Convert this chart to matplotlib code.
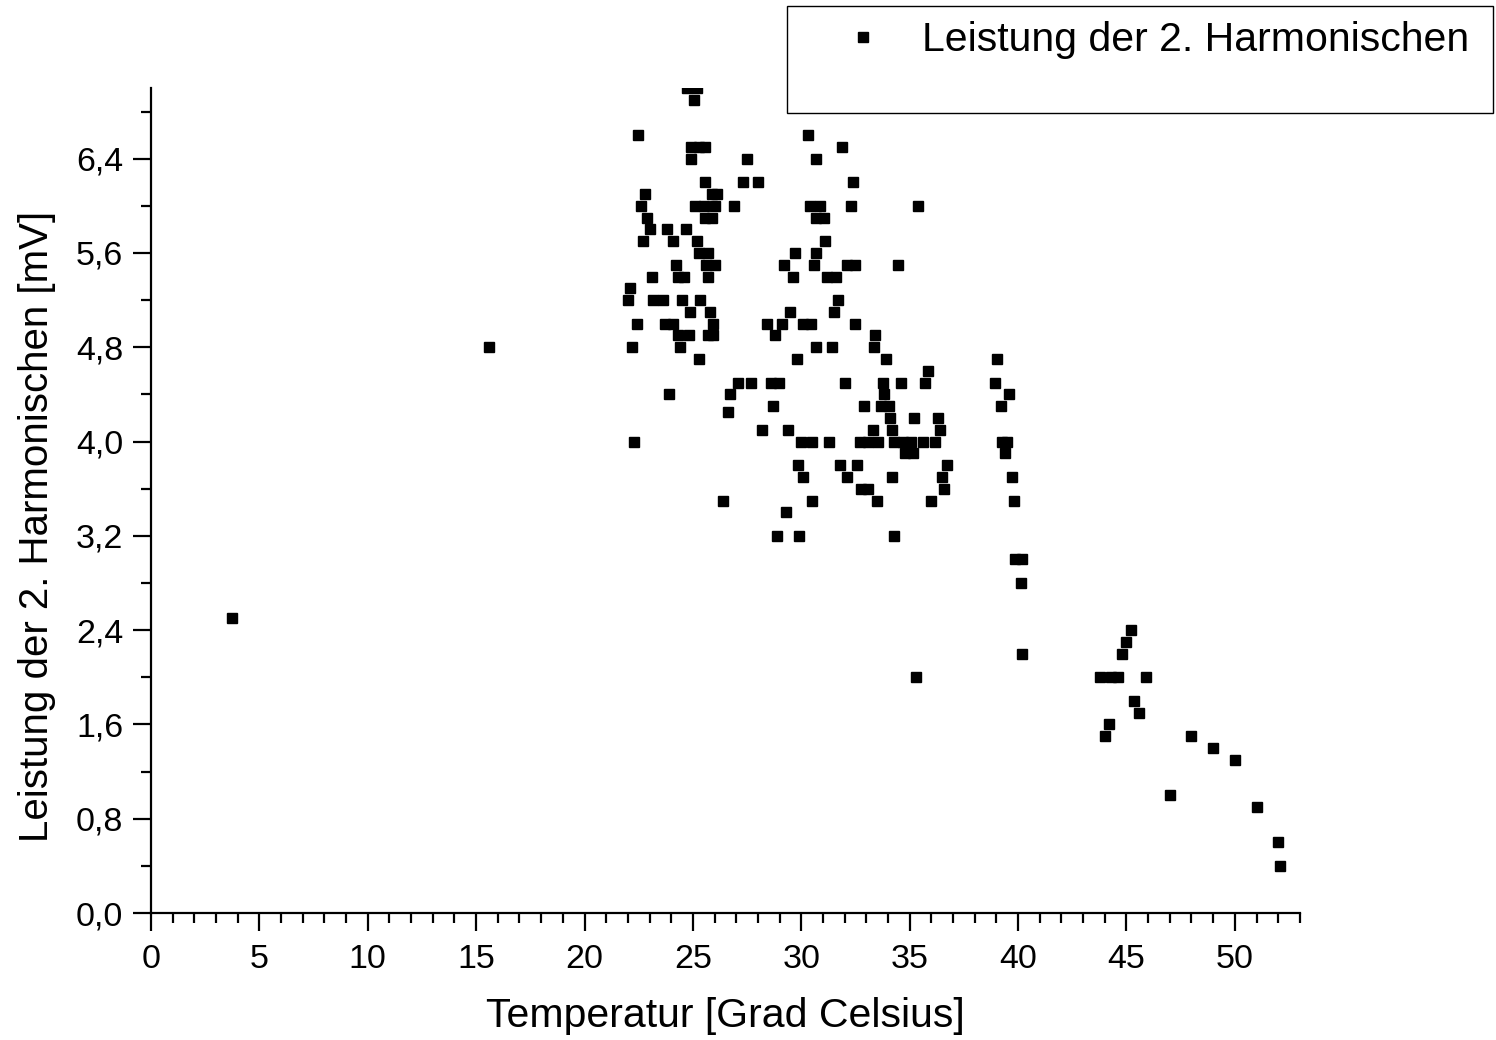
import matplotlib.pyplot as plt
from matplotlib.patches import Rectangle
from matplotlib.ticker import MultipleLocator, FuncFormatter

# Messwerte: Temperatur [Grad Celsius] und Leistung der 2. Harmonischen [mV]
temperatur = [
    3.74, 15.6,
    24.75, 25.2, 25.07, 22.49, 24.9, 25.3, 25.55, 24.9, 27.5,
    25.55, 27.3, 28.0, 22.8, 25.9, 26.1,
    22.6, 25.1, 25.5, 26.0, 26.9, 22.9, 25.55, 25.9,
    23.0, 23.8, 24.7, 22.7, 24.1, 25.2, 25.3, 25.7,
    24.2, 25.6, 26.0, 23.1, 24.3, 24.6, 25.7,
    22.1, 22.0, 23.15, 23.6, 24.5, 25.35, 24.85, 25.8,
    22.4, 23.7, 24.1, 25.95, 24.3, 24.8, 25.7, 25.95,
    22.2, 24.4, 25.3, 23.9, 26.7, 26.6, 22.3,
    30.3, 31.9, 30.7, 32.4, 30.4, 30.85, 32.3, 35.4,
    30.7, 31.05, 31.1, 29.7, 30.7,
    29.2, 30.6, 32.1, 32.5, 34.45, 29.6, 31.2, 31.6, 31.7,
    29.5, 31.5, 28.4, 29.1, 30.1, 30.45, 32.5,
    28.8, 33.4, 30.7, 31.4, 33.35, 29.8, 33.9, 35.85,
    27.1, 27.7, 28.6, 28.95, 32.0, 33.75, 34.6, 35.7, 33.8,
    28.7, 32.9, 33.7, 34.05, 34.1, 35.2, 36.3,
    28.2, 29.4, 33.3, 34.2, 36.4,
    30.0, 30.5, 31.3, 32.7, 33.1, 33.55, 34.3, 34.7, 35.05, 35.6, 36.15,
    34.8, 35.15, 29.85, 31.8, 32.55, 36.7,
    30.1, 32.1, 34.2, 36.5, 32.75, 33.1, 36.6,
    26.4, 30.5, 33.5, 36.0, 29.3, 28.9, 29.9, 34.3, 35.3,
    39.05, 38.95, 39.6, 39.2, 39.25, 39.5, 39.4, 39.7, 39.8,
    39.85, 40.2, 40.15, 40.2,
    45.2, 45.0, 44.8, 43.8, 44.3, 44.6, 45.9, 45.35, 45.6, 44.2, 44.0,
    48.0, 49.0, 50.0, 47.0, 51.0, 52.0, 52.1,
]
leistung = [
    2.5, 4.8,
    7.0, 7.0, 6.9, 6.6, 6.5, 6.5, 6.5, 6.4, 6.4,
    6.2, 6.2, 6.2, 6.1, 6.1, 6.1,
    6.0, 6.0, 6.0, 6.0, 6.0, 5.9, 5.9, 5.9,
    5.8, 5.8, 5.8, 5.7, 5.7, 5.7, 5.6, 5.6,
    5.5, 5.5, 5.5, 5.4, 5.4, 5.4, 5.4,
    5.3, 5.2, 5.2, 5.2, 5.2, 5.2, 5.1, 5.1,
    5.0, 5.0, 5.0, 5.0, 4.9, 4.9, 4.9, 4.9,
    4.8, 4.8, 4.7, 4.4, 4.4, 4.25, 4.0,
    6.6, 6.5, 6.4, 6.2, 6.0, 6.0, 6.0, 6.0,
    5.9, 5.9, 5.7, 5.6, 5.6,
    5.5, 5.5, 5.5, 5.5, 5.5, 5.4, 5.4, 5.4, 5.2,
    5.1, 5.1, 5.0, 5.0, 5.0, 5.0, 5.0,
    4.9, 4.9, 4.8, 4.8, 4.8, 4.7, 4.7, 4.6,
    4.5, 4.5, 4.5, 4.5, 4.5, 4.5, 4.5, 4.5, 4.4,
    4.3, 4.3, 4.3, 4.3, 4.2, 4.2, 4.2,
    4.1, 4.1, 4.1, 4.1, 4.1,
    4.0, 4.0, 4.0, 4.0, 4.0, 4.0, 4.0, 4.0, 4.0, 4.0, 4.0,
    3.9, 3.9, 3.8, 3.8, 3.8, 3.8,
    3.7, 3.7, 3.7, 3.7, 3.6, 3.6, 3.6,
    3.5, 3.5, 3.5, 3.5, 3.4, 3.2, 3.2, 3.2, 2.0,
    4.7, 4.5, 4.4, 4.3, 4.0, 4.0, 3.9, 3.7, 3.5,
    3.0, 3.0, 2.8, 2.2,
    2.4, 2.3, 2.2, 2.0, 2.0, 2.0, 2.0, 1.8, 1.7, 1.6, 1.5,
    1.5, 1.4, 1.3, 1.0, 0.9, 0.6, 0.4,
]
legend_label = "Leistung der 2. Harmonischen"

plt.rcParams['font.family'] = ['Liberation Sans', 'DejaVu Sans']

fig = plt.figure(figsize=(14.96, 10.4), dpi=100)
ax = fig.add_axes([0.1009, 0.1221, 0.768, 0.7933])

pts, = ax.plot(temperatur, leistung, linestyle='none', marker='s',
               markersize=6.8, color='black', label=legend_label)

ax.set_xlim(0, 53)
ax.set_ylim(0, 7.0)
ax.xaxis.set_major_locator(MultipleLocator(5))
ax.xaxis.set_minor_locator(MultipleLocator(1))
ax.yaxis.set_major_locator(MultipleLocator(0.8))
ax.yaxis.set_minor_locator(MultipleLocator(0.4))
ax.yaxis.set_major_formatter(FuncFormatter(lambda v, p: f"{v:.1f}".replace('.', ',')))

for side in ('top', 'right'):
    ax.spines[side].set_visible(False)
for side in ('left', 'bottom'):
    ax.spines[side].set_linewidth(1.6)

ax.tick_params(which='major', direction='out', length=13, width=1.6,
               labelsize=24.5, pad=7)
ax.tick_params(which='minor', direction='out', length=7, width=1.6)
ax.tick_params(axis='x', which='major', pad=9)

ax.set_xlabel("Temperatur [Grad Celsius]", fontsize=29.5, labelpad=16)
ax.set_ylabel("Leistung der 2. Harmonischen [mV]", fontsize=29)
ax.yaxis.set_label_coords(-0.083, 0.469)

# Legendenrahmen
fig.patches.append(Rectangle((787 / 1496, 1 - 113 / 1040), 706 / 1496, 107 / 1040,
                             transform=fig.transFigure, fill=False,
                             edgecolor='black', linewidth=1.0))
fig.legend(handles=[pts], loc='upper left',
           bbox_to_anchor=(843 / 1496, 1 - 21 / 1040),
           frameon=False, fontsize=29.5, borderpad=0, borderaxespad=0,
           handlelength=1.0, handletextpad=0.94, markerscale=1.0)

fig.savefig("out.png", dpi=100)
